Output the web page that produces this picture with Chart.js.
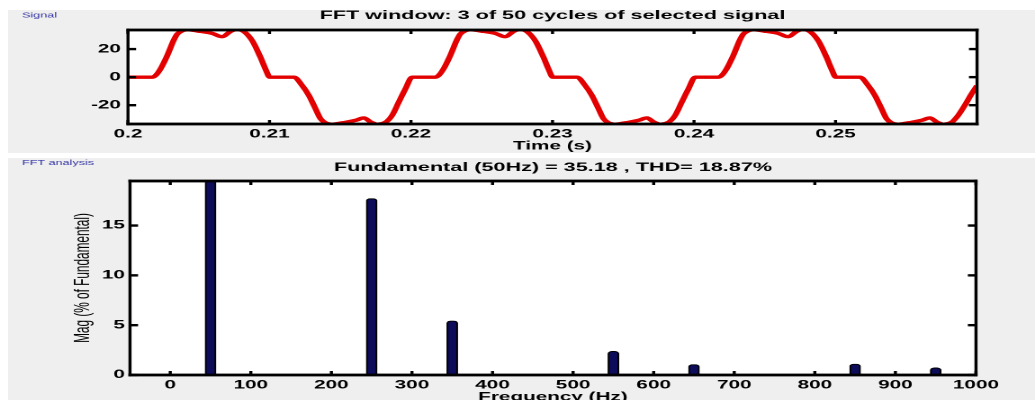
<!DOCTYPE html>
<html>
<head>
<meta charset="utf-8">
<script src="https://cdn.jsdelivr.net/npm/chart.js@4/dist/chart.umd.min.js"></script>
<style>
html, body { margin: 0; padding: 0; background: #fff; overflow: hidden; width: 1035px; height: 400px; }
.panel { position: absolute; left: 8px; right: 0; background: #efefef; }
canvas { position: absolute; left: 0; transform: scaleX(1.8); transform-origin: 0 0; }
</style>
</head>
<body>
<div class="panel" style="top:10px;height:143px"></div>
<div class="panel" style="top:158px;height:242px"></div>
<canvas id="signalChart" width="575" height="153" style="top:0"></canvas>
<canvas id="fftChart" width="575" height="270" style="top:155px"></canvas>
<script>
// signal window (3 cycles)
var sigTime = [
    0.2, 0.2017, 0.20194, 0.2023, 0.20277, 0.20324, 0.20348, 0.20383, 0.20418, 0.20512,
    0.20595, 0.20666, 0.20724, 0.20772, 0.20818, 0.20878, 0.20936, 0.20975, 0.21002, 0.21172,
    0.21231, 0.21278, 0.21325, 0.2136, 0.21396, 0.21443, 0.21537, 0.21608, 0.21667, 0.21714,
    0.21761, 0.2182, 0.21867, 0.21914, 0.21961, 0.22008,
    0.2217, 0.22194, 0.2223, 0.22277, 0.22324, 0.22348, 0.22383, 0.22418, 0.22512,
    0.22595, 0.22666, 0.22724, 0.22772, 0.22818, 0.22878, 0.22936, 0.22975, 0.23002, 0.23172,
    0.23231, 0.23278, 0.23325, 0.2336, 0.23396, 0.23443, 0.23537, 0.23608, 0.23667, 0.23714,
    0.23761, 0.2382, 0.23867, 0.23914, 0.23961, 0.24008,
    0.2417, 0.24194, 0.2423, 0.24277, 0.24324, 0.24348, 0.24383, 0.24418, 0.24512,
    0.24595, 0.24666, 0.24724, 0.24772, 0.24818, 0.24878, 0.24936, 0.24975, 0.25002, 0.25172,
    0.25231, 0.25278, 0.25325, 0.2536, 0.25396, 0.25443, 0.25537, 0.25608, 0.25667, 0.25714,
    0.25761, 0.2582, 0.25867, 0.25914, 0.25961, 0.26
];
var sigValue = [
    0, 0, 1.1, 5.9, 15.3, 26.5, 30.7, 33.0, 33.8, 32.6,
    31.2, 28.8, 32.6, 34.0, 32.6, 26.0, 14.2, 5.0, 0, 0,
    -6.0, -13.0, -22.5, -29.6, -32.6, -33.6, -32.2, -30.8, -29.1, -31.9,
    -33.6, -32.2, -27.2, -17.7, -8.3, 0,
    0, 1.1, 5.9, 15.3, 26.5, 30.7, 33.0, 33.8, 32.6,
    31.2, 28.8, 32.6, 34.0, 32.6, 26.0, 14.2, 5.0, 0, 0,
    -6.0, -13.0, -22.5, -29.6, -32.6, -33.6, -32.2, -30.8, -29.1, -31.9,
    -33.6, -32.2, -27.2, -17.7, -8.3, 0,
    0, 1.1, 5.9, 15.3, 26.5, 30.7, 33.0, 33.8, 32.6,
    31.2, 28.8, 32.6, 34.0, 32.6, 26.0, 14.2, 5.0, 0, 0,
    -6.0, -13.0, -22.5, -29.6, -32.6, -33.6, -32.2, -30.8, -29.1, -31.9,
    -33.6, -32.2, -27.2, -20.0, -12.0, -6.0
];
var timeTicks = [0.2, 0.21, 0.22, 0.23, 0.24, 0.25];
var timeTickLabels = ["0.2", "0.21", "0.22", "0.23", "0.24", "0.25"];
var sigTicks = [-20, 0, 20];
var sigTickLabels = ["-20", "0", "20"];

// harmonic spectrum, % of fundamental
var fftFreq = [50, 250, 350, 550, 650, 850, 950];
var fftMag = [100, 17.7, 5.43, 2.37, 1.04, 1.1, 0.72];
var freqTicks = [0, 100, 200, 300, 400, 500, 600, 700, 800, 900, 1000];
var freqTickLabels = ["0", "100", "200", "300", "400", "500", "600", "700", "800", "900", "1000"];
var magTicks = [0, 5, 10, 15];
var magTickLabels = ["0", "5", "10", "15"];

Chart.defaults.font.family = "'Liberation Sans', Arial, Helvetica, sans-serif";
Chart.defaults.color = "#000";

// MATLAB look: white axes box, thick frame, inward ticks on all four sides
// (the canvas is stretched sideways by 1.8, so vertical strokes are thinner here)
var matlabAxes = {
    id: "matlabAxes",
    beforeDraw: function (chart) {
        var a = chart.chartArea;
        chart.ctx.save();
        chart.ctx.fillStyle = "#fff";
        chart.ctx.fillRect(a.left, a.top, a.width, a.height);
        chart.ctx.restore();
    },
    afterDraw: function (chart, args, opts) {
        var ctx = chart.ctx, a = chart.chartArea;
        var xs = chart.scales.x, ys = chart.scales.y;
        ctx.save();
        ctx.fillStyle = "#000";
        xs.ticks.forEach(function (t) {
            var px = xs.getPixelForValue(t.value);
            ctx.fillRect(px - 0.85, a.bottom - 4, 1.7, 4);
            ctx.fillRect(px - 0.85, a.top, 1.7, 4);
        });
        ys.ticks.forEach(function (t) {
            var py = ys.getPixelForValue(t.value);
            ctx.fillRect(a.left, py - 1.2, 4.5, 2.4);
            ctx.fillRect(a.right - 4.5, py - 1.2, 4.5, 2.4);
        });
        ctx.fillRect(a.left - 0.85, a.top - 1.4, a.width + 1.7, 2.8);
        ctx.fillRect(a.left - 0.85, a.bottom - 1.4, a.width + 1.7, 2.8);
        ctx.fillRect(a.left - 0.85, a.top - 1.4, 1.7, a.height + 2.8);
        ctx.fillRect(a.right - 0.85, a.top - 1.4, 1.7, a.height + 2.8);
        if (opts.label) {
            ctx.fillStyle = "#3535a5";
            ctx.font = "7px 'Liberation Sans', Arial, sans-serif";
            ctx.textBaseline = "middle";
            ctx.fillText(opts.label, 12.2, opts.labelY);
        }
        ctx.restore();
    }
};

function axisOptions(min, max, tickValues, tickLabels, pad, fitSize, horizontal) {
    var o = {
        type: "linear",
        min: min,
        max: max,
        offset: false,
        grid: { display: false, drawTicks: false },
        border: { display: false },
        afterBuildTicks: function (s) {
            s.ticks = tickValues.map(function (v) { return { value: v }; });
        },
        ticks: {
            autoSkip: false,
            maxRotation: 0,
            padding: pad,
            font: { size: 11.5, weight: "bold" },
            callback: function (v, i) { return tickLabels[i]; }
        }
    };
    if (horizontal) {
        o.afterFit = function (s) { s.height = fitSize; };
    } else {
        o.afterFit = function (s) { s.width = fitSize; };
    }
    return o;
}

var sigX = axisOptions(0.2, 0.26, timeTicks, timeTickLabels, 3.6, 29, true);
sigX.title = { display: true, text: "Time (s)", font: { size: 11.5, weight: "bold" }, padding: { top: 0, bottom: 0 } };
var sigY = axisOptions(-33.4, 33.6, sigTicks, sigTickLabels, 3.9, 71.1, false);

new Chart(document.getElementById("signalChart"), {
    type: "line",
    data: {
        datasets: [{
            data: sigTime.map(function (t, i) { return { x: t, y: sigValue[i] }; }),
            borderColor: "#e30000",
            borderWidth: 3.4,
            pointRadius: 0,
            cubicInterpolationMode: "monotone",
            clip: 0
        }]
    },
    plugins: [matlabAxes],
    options: {
        responsive: false,
        animation: false,
        devicePixelRatio: 2,
        layout: { padding: { left: 0, right: 32.2, top: 0, bottom: 0 }, autoPadding: false },
        plugins: {
            legend: { display: false },
            tooltip: { enabled: false },
            title: {
                display: true,
                fullSize: false,
                text: "FFT window: 3 of 50 cycles of selected signal",
                font: { size: 12, weight: "bold" },
                color: "#000",
                padding: { top: 8.3, bottom: 7.3 }
            },
            matlabAxes: { label: "Signal", labelY: 15.5 }
        },
        scales: { x: sigX, y: sigY }
    }
});

var fftX = axisOptions(-50, 1000, freqTicks, freqTickLabels, 3.6, 50, true);
fftX.title = { display: true, text: "Frequency (Hz)", font: { size: 11.5, weight: "bold" }, padding: { top: 0, bottom: 21 } };
var fftY = axisOptions(0, 19.47, magTicks, magTickLabels, 2.8, 72.2, false);
fftY.title = { display: true, text: "Mag (% of Fundamental)", font: { size: 11.8 }, padding: { top: 39.3, bottom: 0 } };

new Chart(document.getElementById("fftChart"), {
    type: "bar",
    data: {
        datasets: [{
            data: fftFreq.map(function (f, i) { return { x: f, y: fftMag[i] }; }),
            backgroundColor: "#0c0c5a",
            borderColor: "#000",
            borderWidth: 1,
            barThickness: 5.8,
            borderRadius: { topLeft: 2.5, topRight: 2.5 },
            borderSkipped: "bottom"
        }]
    },
    plugins: [matlabAxes],
    options: {
        responsive: false,
        animation: false,
        devicePixelRatio: 2,
        layout: { padding: { left: 0, right: 32.8, top: 0, bottom: 0 }, autoPadding: false },
        plugins: {
            legend: { display: false },
            tooltip: { enabled: false },
            title: {
                display: true,
                fullSize: false,
                text: "Fundamental (50Hz) = 35.18 , THD= 18.87%",
                font: { size: 12, weight: "bold" },
                color: "#000",
                padding: { top: 5.3, bottom: 6.3 }
            },
            matlabAxes: { label: "FFT analysis", labelY: 8 }
        },
        scales: { x: fftX, y: fftY }
    }
});
</script>
</body>
</html>
